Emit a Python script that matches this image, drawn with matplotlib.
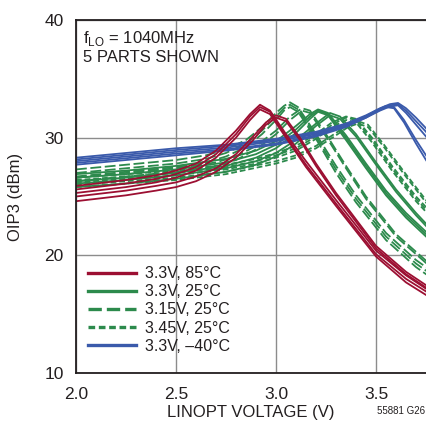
#!/usr/bin/env python3
# -*- coding: utf-8 -*-
"""
OIP3 vs LINOPT voltage, fLO = 1040MHz, 5 parts per condition
"""

import matplotlib
matplotlib.use('Agg')
import matplotlib.pyplot as plt
from matplotlib.lines import Line2D

matplotlib.rcParams['font.family'] = ['Liberation Sans', 'DejaVu Sans']
matplotlib.rcParams['mathtext.fontset'] = 'custom'
matplotlib.rcParams['mathtext.rm'] = 'Liberation Sans'
matplotlib.rcParams['axes.unicode_minus'] = False

# ---- data (x = LINOPT voltage V, y = OIP3 dBm) ----
# 3.3V, 85C
red_x_a = [2.0, 2.25, 2.4, 2.5, 2.6, 2.7, 2.8, 2.87, 2.92, 2.97, 3.05, 3.15, 3.3, 3.5, 3.65, 3.8]
red_y_1 = [25.9, 26.4, 26.8, 27.2, 27.8, 28.9, 30.6, 32.0, 32.8, 32.3, 30.3, 28.0, 24.7, 20.4, 18.3, 16.6]
red_y_2 = [25.6, 26.1, 26.5, 26.9, 27.5, 28.6, 30.3, 31.8, 32.6, 32.2, 30.1, 27.7, 24.4, 20.1, 18.0, 16.4]
red_y_3 = [25.3, 25.8, 26.2, 26.6, 27.2, 28.3, 30.0, 31.5, 32.4, 32.0, 30.0, 27.5, 24.2, 19.9, 17.7, 16.1]
red_x_b = [2.0, 2.25, 2.4, 2.5, 2.6, 2.7, 2.8, 2.88, 2.95, 3.0, 3.05, 3.12, 3.2, 3.3, 3.5, 3.65, 3.8]
red_y_4 = [25.0, 25.5, 25.9, 26.2, 26.7, 27.4, 28.6, 30.0, 31.3, 31.9, 31.6, 30.0, 27.8, 25.3, 20.8, 18.6, 16.9]
red_y_5 = [24.6, 25.1, 25.5, 25.8, 26.3, 27.1, 28.3, 29.7, 31.1, 31.7, 31.4, 29.8, 27.6, 25.1, 20.6, 18.4, 16.7]

# 3.3V, -40C
blue_x_a = [2.0, 2.25, 2.5, 2.75, 3.0, 3.2, 3.35, 3.45, 3.52, 3.57, 3.61, 3.65, 3.7, 3.75, 3.8]
blue_y_1 = [28.3, 28.7, 29.1, 29.4, 29.9, 30.5, 31.2, 31.9, 32.5, 32.85, 32.95, 32.5, 31.7, 30.8, 29.6]
blue_y_2 = [28.15, 28.55, 28.95, 29.3, 29.8, 30.4, 31.1, 31.8, 32.4, 32.75, 32.85, 32.3, 31.4, 30.5, 29.3]
blue_y_3 = [28.0, 28.4, 28.8, 29.15, 29.7, 30.3, 31.0, 31.7, 32.3, 32.65, 32.75, 32.1, 31.1, 30.1, 28.9]
blue_x_b = [2.0, 2.25, 2.5, 2.75, 3.0, 3.2, 3.35, 3.45, 3.5, 3.55, 3.59, 3.64, 3.7, 3.75, 3.8]
blue_y_4 = [27.85, 28.25, 28.65, 29.0, 29.5, 30.2, 31.0, 31.8, 32.3, 32.7, 32.6, 31.5, 29.8, 28.5, 27.2]
blue_y_5 = [27.7, 28.1, 28.5, 28.9, 29.4, 30.1, 30.9, 31.7, 32.2, 32.6, 32.5, 31.3, 29.5, 28.1, 26.8]

# 3.15V, 25C
g15_x_a = [2.0, 2.25, 2.5, 2.65, 2.75, 2.85, 2.93, 3.0, 3.04, 3.07, 3.11, 3.2, 3.3, 3.4, 3.55, 3.7, 3.8]
g15_y_1 = [27.3, 27.7, 28.1, 28.5, 29.0, 29.8, 30.9, 32.1, 32.7, 33.0, 32.6, 30.3, 27.6, 25.1, 21.9, 19.6, 18.4]
g15_y_2 = [27.0, 27.4, 27.8, 28.2, 28.7, 29.5, 30.6, 31.8, 32.5, 32.8, 32.4, 30.1, 27.3, 24.8, 21.6, 19.3, 18.1]
g15_y_3 = [26.7, 27.1, 27.5, 27.9, 28.4, 29.2, 30.3, 31.5, 32.3, 32.6, 32.2, 29.9, 27.0, 24.5, 21.3, 19.0, 17.8]
g15_x_b = [2.0, 2.25, 2.5, 2.7, 2.8, 2.9, 3.0, 3.07, 3.13, 3.17, 3.25, 3.35, 3.45, 3.6, 3.8]
g15_y_4 = [26.6, 27.0, 27.4, 27.9, 28.4, 29.3, 30.6, 31.8, 32.5, 32.3, 30.3, 27.6, 25.0, 21.8, 18.8]
g15_y_5 = [26.3, 26.7, 27.1, 27.6, 28.1, 29.0, 30.3, 31.5, 32.3, 32.1, 30.1, 27.4, 24.8, 21.6, 18.6]

# 3.3V, 25C
g33_x_a = [2.0, 2.25, 2.5, 2.75, 2.9, 3.0, 3.1, 3.17, 3.21, 3.26, 3.35, 3.45, 3.55, 3.65, 3.8]
g33_y_1 = [26.9, 27.2, 27.6, 28.2, 28.9, 29.7, 31.0, 32.0, 32.4, 32.1, 30.2, 27.8, 25.5, 23.6, 21.2]
g33_y_2 = [26.6, 26.9, 27.3, 27.9, 28.6, 29.4, 30.7, 31.8, 32.3, 32.0, 30.0, 27.6, 25.3, 23.4, 21.0]
g33_y_3 = [26.3, 26.6, 27.0, 27.6, 28.3, 29.1, 30.4, 31.6, 32.2, 31.9, 29.8, 27.4, 25.1, 23.2, 20.8]
g33_x_b = [2.0, 2.25, 2.5, 2.75, 2.9, 3.0, 3.1, 3.2, 3.27, 3.32, 3.4, 3.5, 3.6, 3.7, 3.8]
g33_y_4 = [26.1, 26.4, 26.8, 27.4, 28.0, 28.7, 29.8, 31.2, 32.1, 31.8, 30.3, 27.9, 25.6, 23.6, 21.8]
g33_y_5 = [25.8, 26.1, 26.5, 27.1, 27.7, 28.4, 29.5, 31.0, 31.9, 31.6, 30.1, 27.7, 25.4, 23.4, 21.6]

# 3.45V, 25C
g345_x_a = [2.0, 2.25, 2.5, 2.75, 2.9, 3.0, 3.1, 3.2, 3.28, 3.35, 3.4, 3.48, 3.58, 3.7, 3.8]
g345_y_1 = [26.6, 26.9, 27.2, 27.7, 28.2, 28.7, 29.3, 30.3, 31.3, 31.8, 31.6, 30.0, 27.6, 25.0, 23.2]
g345_y_2 = [26.4, 26.7, 27.0, 27.5, 28.0, 28.5, 29.1, 30.1, 31.1, 31.7, 31.5, 29.8, 27.4, 24.8, 23.0]
g345_y_3 = [26.2, 26.5, 26.8, 27.3, 27.8, 28.3, 28.9, 29.9, 30.9, 31.5, 31.3, 29.6, 27.2, 24.6, 22.8]
g345_x_b = [2.0, 2.25, 2.5, 2.75, 3.0, 3.1, 3.2, 3.3, 3.36, 3.41, 3.46, 3.54, 3.64, 3.8]
g345_y_4 = [26.0, 26.3, 26.6, 27.1, 28.0, 28.5, 29.3, 30.4, 31.1, 31.4, 31.1, 29.4, 27.1, 23.6]
g345_y_5 = [25.8, 26.1, 26.4, 26.9, 27.8, 28.3, 29.1, 30.2, 30.9, 31.2, 30.9, 29.2, 26.9, 23.4]

legend_labels = ['3.3V, 85°C', '3.3V, 25°C', '3.15V, 25°C', '3.45V, 25°C', '3.3V, \u201340°C']
x_ticks = [2.0, 2.5, 3.0, 3.5]
y_ticks = [10, 20, 30, 40]

# 配色
RED = '#9c0f32'
GREEN = '#2c8a4c'
BLUE = '#3a5aab'
INK = '#231f20'

LW = 1.3
LONG_DASH = (0, (6.0, 2.0))
SHORT_DASH = (0, (3.2, 1.6))


def draw_group(ax, parts, color, ls):
    """画一个条件下的5个器件曲线"""
    for xs, ys in parts:
        ax.plot(xs, ys, color=color, lw=LW, ls=ls, solid_capstyle='butt',
                dash_capstyle='butt')


def main():
    fig = plt.figure(figsize=(4.26, 4.24), dpi=100)
    # 右侧被裁掉，轴延伸到4.0V
    ax = fig.add_axes([76 / 426, 1 - 373 / 424, 400 / 426, 353 / 424])
    ax.set_xlim(2.0, 4.0)
    ax.set_ylim(10, 40)

    draw_group(ax, [(g15_x_a, g15_y_1), (g15_x_a, g15_y_2), (g15_x_a, g15_y_3),
                    (g15_x_b, g15_y_4), (g15_x_b, g15_y_5)], GREEN, LONG_DASH)
    draw_group(ax, [(g33_x_a, g33_y_1), (g33_x_a, g33_y_2), (g33_x_a, g33_y_3),
                    (g33_x_b, g33_y_4), (g33_x_b, g33_y_5)], GREEN, '-')
    draw_group(ax, [(g345_x_a, g345_y_1), (g345_x_a, g345_y_2), (g345_x_a, g345_y_3),
                    (g345_x_b, g345_y_4), (g345_x_b, g345_y_5)], GREEN, SHORT_DASH)
    draw_group(ax, [(blue_x_a, blue_y_1), (blue_x_a, blue_y_2), (blue_x_a, blue_y_3),
                    (blue_x_b, blue_y_4), (blue_x_b, blue_y_5)], BLUE, '-')
    draw_group(ax, [(red_x_a, red_y_1), (red_x_a, red_y_2), (red_x_a, red_y_3),
                    (red_x_b, red_y_4), (red_x_b, red_y_5)], RED, '-')

    # 网格与坐标轴
    ax.set_xticks(x_ticks)
    ax.set_yticks(y_ticks)
    ax.set_xticklabels(['%.1f' % v for v in x_ticks])
    ax.grid(True, color='#8c8c8c', lw=1.0)
    ax.set_axisbelow(True)
    ax.tick_params(length=0, labelsize=12.5, colors=INK)
    ax.tick_params(axis='x', pad=10)
    ax.tick_params(axis='y', pad=9)
    for side in ['left', 'bottom', 'top']:
        ax.spines[side].set_linewidth(1.3)
        ax.spines[side].set_color(INK)
    ax.spines['right'].set_visible(False)

    ax.set_ylabel('OIP3 (dBm)', fontsize=12, color=INK)
    ax.yaxis.set_label_coords(-0.133, 0.5)
    ax.set_xlabel('LINOPT VOLTAGE (V)', fontsize=12, color=INK)
    ax.xaxis.set_label_coords((251 - 76) / 400, -0.09)

    ax.text(0.018, 0.975, 'f$_{\\rm LO}$ = 1040MHz\n5 PARTS SHOWN', transform=ax.transAxes,
            fontsize=12, va='top', ha='left', color=INK, linespacing=1.15)

    # 图例
    handles = [
        Line2D([], [], color=RED, lw=2.4),
        Line2D([], [], color=GREEN, lw=2.4),
        Line2D([], [], color=GREEN, lw=2.4, ls=(0, (4.0, 1.5))),
        Line2D([], [], color=GREEN, lw=2.4, ls=(0, (2.0, 1.1))),
        Line2D([], [], color=BLUE, lw=2.4),
    ]
    leg = ax.legend(handles, legend_labels, loc='upper left',
                    bbox_to_anchor=(0.005, 0.33), frameon=False, fontsize=11.5,
                    handlelength=3.0, handletextpad=0.6, labelspacing=0.2,
                    borderpad=0.3, borderaxespad=0.3)
    for t in leg.get_texts():
        t.set_color(INK)

    fig.text(425 / 426, 1 - 411 / 424, '55881 G26', fontsize=7, ha='right',
             va='center', color=INK)

    fig.savefig('out.png', dpi=100)


if __name__ == "__main__":
    main()
